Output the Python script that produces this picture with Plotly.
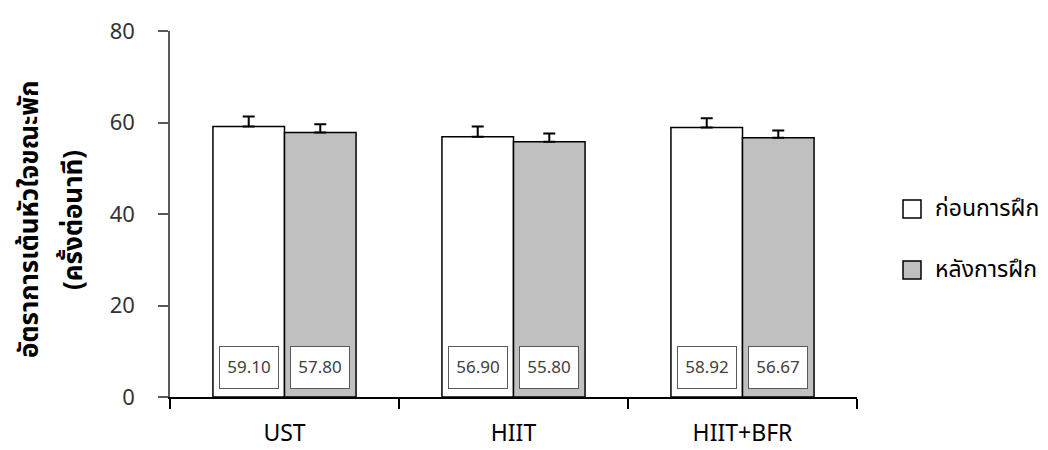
import plotly.graph_objects as go

categories = ["UST", "HIIT", "HIIT+BFR"]
pre_values = [59.10, 56.90, 58.92]
post_values = [57.80, 55.80, 56.67]
pre_err = [2.2, 2.2, 2.0]
post_err = [1.8, 1.8, 1.6]
series_names = ["ก่อนการฝึก", "หลังการฝึก"]
y_title_lines = ["อัตราการเต้นหัวใจขณะพัก", "(ครั้งต่อนาที)"]

OFF = 8  # default body margin of the html page
W, H = 1048 - OFF, 450 - OFF
ML, MR, MT, MB = 170 - OFF, 191, 31 - OFF, 53
BARGAP = 0.375
FONT = "Noto Sans Thai, Noto Sans, sans-serif"
plot_w = W - ML - MR
plot_h = H - MT - MB


def px(xp):
    return (xp - OFF - ML) / plot_w


def py(yp):
    return 1 - (yp - OFF - MT) / plot_h


fig = go.Figure()
colors = ["#ffffff", "#c0c0c0"]
for name, vals, errs, col in zip(series_names, [pre_values, post_values], [pre_err, post_err], colors):
    fig.add_trace(go.Bar(
        x=categories, y=vals, name=name,
        marker=dict(color=col, line=dict(color="black", width=1.5)),
        error_y=dict(type="data", array=errs, arrayminus=[0]*len(errs), symmetric=False,
                     color="black", thickness=2, width=6),
        showlegend=False,
    ))

# value boxes
cat_w = plot_w / len(categories)
bar_w = cat_w * (1 - BARGAP) / 2
for vals, sign in [(pre_values, -1), (post_values, 1)]:
    for c, v in zip(categories, vals):
        fig.add_annotation(
            x=c, y=0, xref="x", yref="y", text=f"{v:.2f}", showarrow=False,
            xshift=sign * bar_w / 2, yshift=8, yanchor="bottom",
            width=56, height=39, bgcolor="white", bordercolor="#595959",
            borderwidth=1, borderpad=1, font=dict(size=17, color="#404040", family=FONT),
        )

# y title (two lines)
for line, xc in zip(y_title_lines, [30, 74]):
    fig.add_annotation(
        x=px(xc), y=py(220), xref="paper", yref="paper", text="<b>" + line + "</b>",
        textangle=-90, showarrow=False, xanchor="center", yanchor="middle",
        font=dict(size=26, color="black", family=FONT),
    )

# custom legend
for name, col, yy in zip(series_names, colors, [209, 270]):
    dy = 9 / plot_h
    fig.add_shape(type="rect", xref="paper", yref="paper", x0=px(903), x1=px(921),
                  y0=py(yy) - dy, y1=py(yy) + dy,
                  fillcolor=col, line=dict(color="black", width=1.5))
    fig.add_annotation(x=px(933), y=py(yy), xref="paper", yref="paper", text=name,
                       showarrow=False, xanchor="left", yanchor="middle",
                       font=dict(size=23, color="black", family=FONT))

fig.update_layout(
    width=W, height=H, barmode="group", bargap=BARGAP, bargroupgap=0,
    margin=dict(l=ML, r=MR, t=MT, b=MB, pad=0, autoexpand=False),
    plot_bgcolor="white", paper_bgcolor="white",
    font=dict(family=FONT),
)
fig.update_xaxes(
    showline=True, linecolor="black", linewidth=2, ticks="outside", ticklen=10,
    tickcolor="black", tickwidth=1.5, tickson="boundaries", showgrid=False, automargin=False,
    tickfont=dict(size=23, color="black", family=FONT), ticklabelstandoff=14,
)
fig.update_yaxes(
    range=[0, 80], dtick=20, showline=True, linecolor="#595959", linewidth=1.5,
    ticks="outside", ticklen=10, tickcolor="#595959", tickwidth=1.5, showgrid=False,
    zeroline=False, automargin=False,
    tickfont=dict(size=22, color="#333333", family=FONT), ticklabelstandoff=19,
)

fig.write_html("out.html")
